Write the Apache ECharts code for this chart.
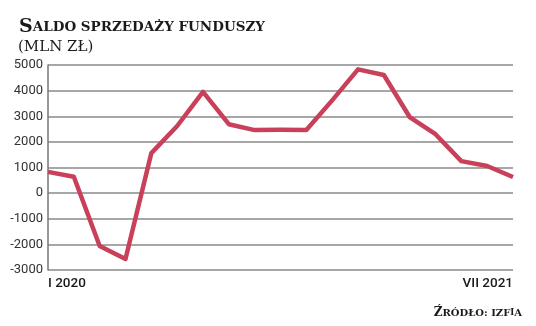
<!DOCTYPE html>
<html><head><meta charset="utf-8">
<script src="https://cdn.jsdelivr.net/npm/echarts@6/dist/echarts.min.js"></script>
<style>html,body{margin:0;padding:0;background:#fff}#c{width:536px;height:326px}</style>
</head><body><div id="c"></div>
<script>
var categories = ['I 2020','II 2020','III 2020','IV 2020','V 2020','VI 2020','VII 2020','VIII 2020','IX 2020','X 2020','XI 2020','XII 2020','I 2021','II 2021','III 2021','IV 2021','V 2021','VI 2021','VII 2021'];
var values = [830, 640, -2060, -2570, 1560, 2620, 3950, 2690, 2460, 2470, 2460, 3620, 4830, 4610, 2970, 2300, 1250, 1060, 630];
var yTicks = [-3000,-2000,-1000,0,1000,2000,3000,4000,5000];

var chart = echarts.init(document.getElementById('c'));
chart.setOption({
  animation:false,
  title:[{
    left:14, top:13,
    text:'{a|S}{b|ALDO SPRZEDAŻY FUNDUSZY}',
    textStyle:{rich:{
      a:{fontFamily:'DejaVu Serif',fontWeight:'bold',fontSize:19,color:'#1a1a1a'},
      b:{fontFamily:'DejaVu Serif',fontWeight:'bold',fontSize:13.5,color:'#1a1a1a'}
    }}
  },{
    left:13, top:35,
    text:'(MLN ZŁ)',
    textStyle:{fontFamily:'DejaVu Serif',fontWeight:'normal',fontSize:15,color:'#1a1a1a'}
  },{
    right:9, top:302,
    text:'{a|Ź}{b|RÓDŁO: IZF}{c|I}{b|A}',
    textStyle:{rich:{
      a:{fontFamily:'DejaVu Serif',fontSize:12,color:'#1a1a1a'},
      b:{fontFamily:'DejaVu Serif',fontSize:10,color:'#1a1a1a'},
      c:{fontFamily:'DejaVu Serif',fontSize:8.5,color:'#1a1a1a'}
    }}
  }],
  grid:{left:48,right:23,top:65,bottom:56,containLabel:false},
  xAxis:{
    type:'category', data:categories, boundaryGap:false,
    axisLine:{show:false}, axisTick:{show:false},
    axisLabel:{
      interval:0, margin:7, color:'#1a1a1a',
      fontFamily:'Roboto', fontWeight:500, fontSize:13.5,
      alignMinLabel:'left', alignMaxLabel:'right',
      formatter:function(v,i){return (i===0||i===categories.length-1)?v:'';}
    }
  },
  yAxis:{
    type:'value', min:yTicks[0], max:yTicks[yTicks.length-1], interval:1000,
    axisLine:{show:true,lineStyle:{color:'#777',width:1.5}},
    axisTick:{show:false},
    splitLine:{lineStyle:{color:'#8a8a8a',width:1.5}},
    axisLabel:{margin:5,color:'#333',fontFamily:'Roboto',fontSize:13,
      formatter:function(v){return String(v);}}
  },
  series:[{
    type:'line', data:values, symbol:'none',
    lineStyle:{color:'#c9405a',width:4.5,join:'round'},
    itemStyle:{color:'#c9405a'}
  }]
});
</script></body></html>
